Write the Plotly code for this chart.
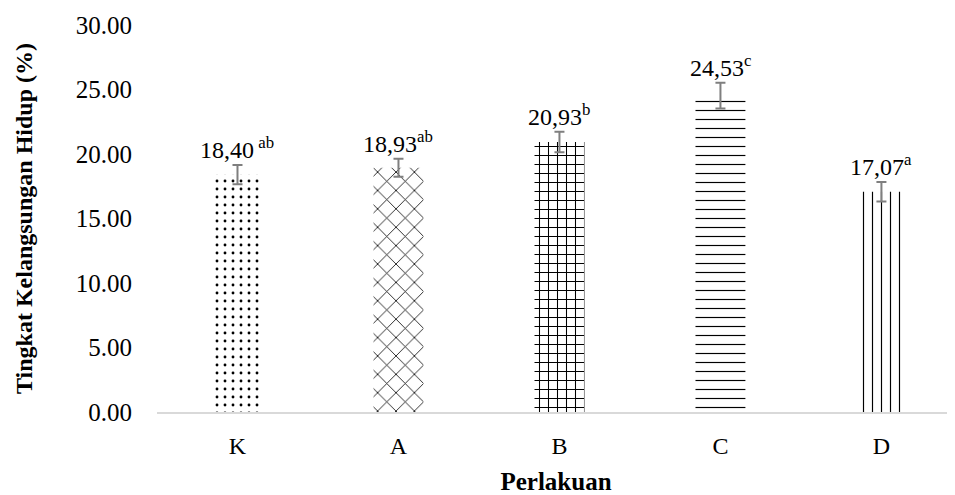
import plotly.graph_objects as go

categories = ["K", "A", "B", "C", "D"]
values = [18.40, 18.93, 20.93, 24.53, 17.07]
errors = [0.75, 0.7, 0.8, 1.0, 0.75]
value_labels = ["18,40", "18,93", "20,93", "24,53", "17,07"]
letters = [" ab", "ab", "b", "c", "a"]
shapes = [".", "x", "+", "-", "|"]
pattern_sizes = [8, 13, 9, 9, 9]
pattern_solidity = [0.1, 0.12, 0.22, 0.13, 0.13]
y_ticks = [0, 5, 10, 15, 20, 25, 30]

FONT = "Liberation Serif, Times New Roman, serif"

fig = go.Figure()
fig.add_trace(go.Bar(
    x=categories, y=values, width=0.31,
    marker=dict(color="white", line=dict(width=0),
                pattern=dict(shape=shapes, fgcolor="black", bgcolor="white",
                             size=pattern_sizes, solidity=pattern_solidity,
                             fillmode="replace")),
    error_y=dict(type="data", array=errors, visible=True,
                 color="#7f7f7f", thickness=2, width=5),
    showlegend=False,
))

for c, v, e, lab, let in zip(categories, values, errors, value_labels, letters):
    fig.add_annotation(x=c, y=v + e, text=f"{lab}<sup>{let}</sup>", showarrow=False,
                       yanchor="bottom", yshift=0,
                       font=dict(family=FONT, size=24, color="black"))

fig.update_layout(
    width=947, height=487,
    margin=dict(l=149, r=0, t=17, b=83),
    paper_bgcolor="white", plot_bgcolor="white",
    font=dict(family=FONT, size=24, color="black"),
    xaxis=dict(range=[-0.5, 4.457], showline=True, linecolor="#d9d9d9", linewidth=2,
               ticks="", showgrid=False, zeroline=False, automargin=False,
               ticklabelstandoff=11,
               title=dict(text="<b>Perlakuan</b>", font=dict(family=FONT, size=25), standoff=17),
               tickfont=dict(family=FONT, size=24)),
    yaxis=dict(range=[0, 30], tickvals=y_ticks, ticktext=[f"{t:.2f}" for t in y_ticks],
               showgrid=False, zeroline=False, showline=False, ticks="", automargin=False,
               ticklabelstandoff=24,
               title=dict(text="<b>Tingkat Kelangsungan Hidup (%)</b>",
                          font=dict(family=FONT, size=24), standoff=36),
               tickfont=dict(family=FONT, size=25)),
)

fig.write_html("out.html")
